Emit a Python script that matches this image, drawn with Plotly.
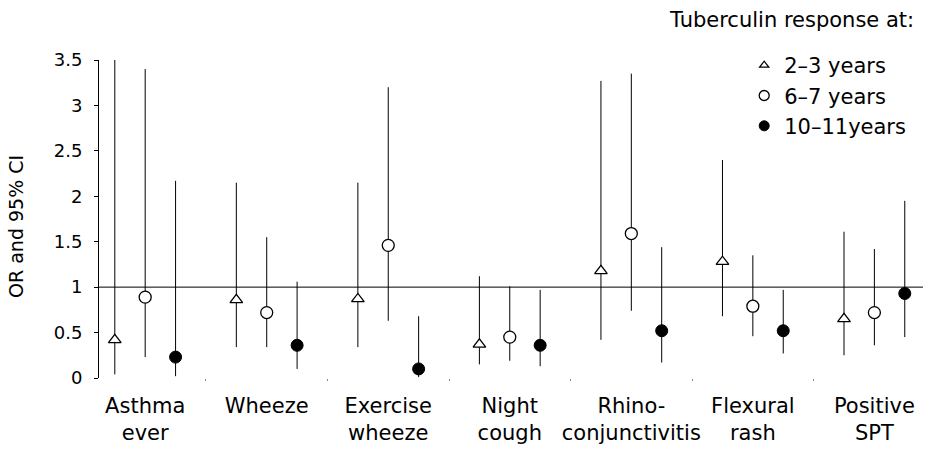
import plotly.graph_objects as go

categories = ["Asthma<br>ever", "Wheeze", "Exercise<br>wheeze", "Night<br>cough",
              "Rhino-<br>conjunctivitis", "Flexural<br>rash", "Positive<br>SPT"]
series_names = ["2–3 years", "6–7 years", "10–11years"]

or_2_3 = [0.42, 0.86, 0.87, 0.37, 1.18, 1.28, 0.65]
lo_2_3 = [0.04, 0.34, 0.34, 0.15, 0.42, 0.68, 0.25]
hi_2_3 = [3.54, 2.15, 2.15, 1.12, 3.27, 2.40, 1.61]

or_6_7 = [0.89, 0.72, 1.46, 0.45, 1.59, 0.79, 0.72]
lo_6_7 = [0.23, 0.34, 0.63, 0.19, 0.74, 0.46, 0.36]
hi_6_7 = [3.40, 1.55, 3.20, 1.01, 3.35, 1.35, 1.42]

or_10_11 = [0.23, 0.36, 0.10, 0.36, 0.52, 0.52, 0.93]
lo_10_11 = [0.02, 0.10, 0.01, 0.13, 0.17, 0.27, 0.45]
hi_10_11 = [2.17, 1.06, 0.68, 0.97, 1.44, 0.97, 1.95]

y_ticks = [0, 0.5, 1, 1.5, 2, 2.5, 3, 3.5]
y_tick_text = ["0", "0.5", "1", "1.5", "2", "2.5", "3", "3.5"]

FONT = "DejaVu Sans"

series = [
    (series_names[0], or_2_3, lo_2_3, hi_2_3, -0.25,
     dict(symbol="triangle-up", size=11, color="white", line=dict(color="black", width=1.3)), 8),
    (series_names[1], or_6_7, lo_6_7, hi_6_7, 0.0,
     dict(symbol="circle", size=12, color="white", line=dict(color="black", width=1.3)), 10),
    (series_names[2], or_10_11, lo_10_11, hi_10_11, 0.25,
     dict(symbol="circle", size=12, color="black", line=dict(color="black", width=1)), 10),
]

fig = go.Figure()
idx = list(range(len(categories)))
for name, orv, lo, hi, off, mk, lsize in series:
    fig.add_trace(go.Scatter(
        x=[i + off for i in idx], y=orv, name=name, mode="markers",
        marker=mk, cliponaxis=False, showlegend=False,
        error_y=dict(type="data", symmetric=False,
                     array=[h - o for h, o in zip(hi, orv)],
                     arrayminus=[o - l for o, l in zip(orv, lo)],
                     width=0, thickness=1, color="black"),
    ))
for name, orv, lo, hi, off, mk, lsize in series:
    lmk = dict(mk)
    lmk["size"] = lsize
    fig.add_trace(go.Scatter(x=[None], y=[None], name=name, mode="markers",
                             marker=lmk, showlegend=True))

fig.add_shape(type="line", xref="paper", x0=0, x1=1, yref="y", y0=1, y1=1,
              line=dict(color="black", width=1), layer="below")

fig.add_annotation(text="Tuberculin response at:", xref="paper", yref="paper",
                   x=0.689, y=1.126, xanchor="left", yanchor="middle", showarrow=False,
                   font=dict(family=FONT, size=21, color="black"))

fig.add_annotation(text="OR and 95% CI", xref="paper", yref="paper",
                   x=-0.1007, y=0.475, xanchor="center", yanchor="middle", showarrow=False,
                   textangle=-90, font=dict(family=FONT, size=19, color="black"))

fig.update_layout(
    width=931, height=449,
    margin=dict(l=99, r=8, t=60, b=71),
    paper_bgcolor="white", plot_bgcolor="white",
    font=dict(family=FONT, color="black", size=18),
    showlegend=True,
    legend=dict(x=0.783, y=1.047, xanchor="left", yanchor="top",
                font=dict(family=FONT, size=21, color="black"),
                bgcolor="rgba(0,0,0,0)", borderwidth=0, tracegroupgap=0),
    xaxis=dict(range=[-0.38, 6.40], tickvals=idx, ticktext=categories,
               ticks="", showgrid=False, zeroline=False, showline=False,
               automargin=False,
               tickfont=dict(family=FONT, size=21, color="black"),
               ticklabelstandoff=13,
               minor=dict(tickvals=[i + 0.5 for i in idx[:-1]], ticks="outside",
                          ticklen=2, tickwidth=1, tickcolor="#888", showgrid=False)),
    yaxis=dict(range=[0, 3.5], tickvals=y_ticks, ticktext=y_tick_text,
               ticks="outside", ticklen=4, tickcolor="black", tickwidth=1,
               showline=True, linecolor="black", linewidth=1,
               showgrid=False, zeroline=False, automargin=False,
               tickfont=dict(family=FONT, size=18, color="black"),
               ticklabelstandoff=8),
)

fig.write_html("out.html", config={"displayModeBar": False},
               post_script="document.body.style.margin='0';")
